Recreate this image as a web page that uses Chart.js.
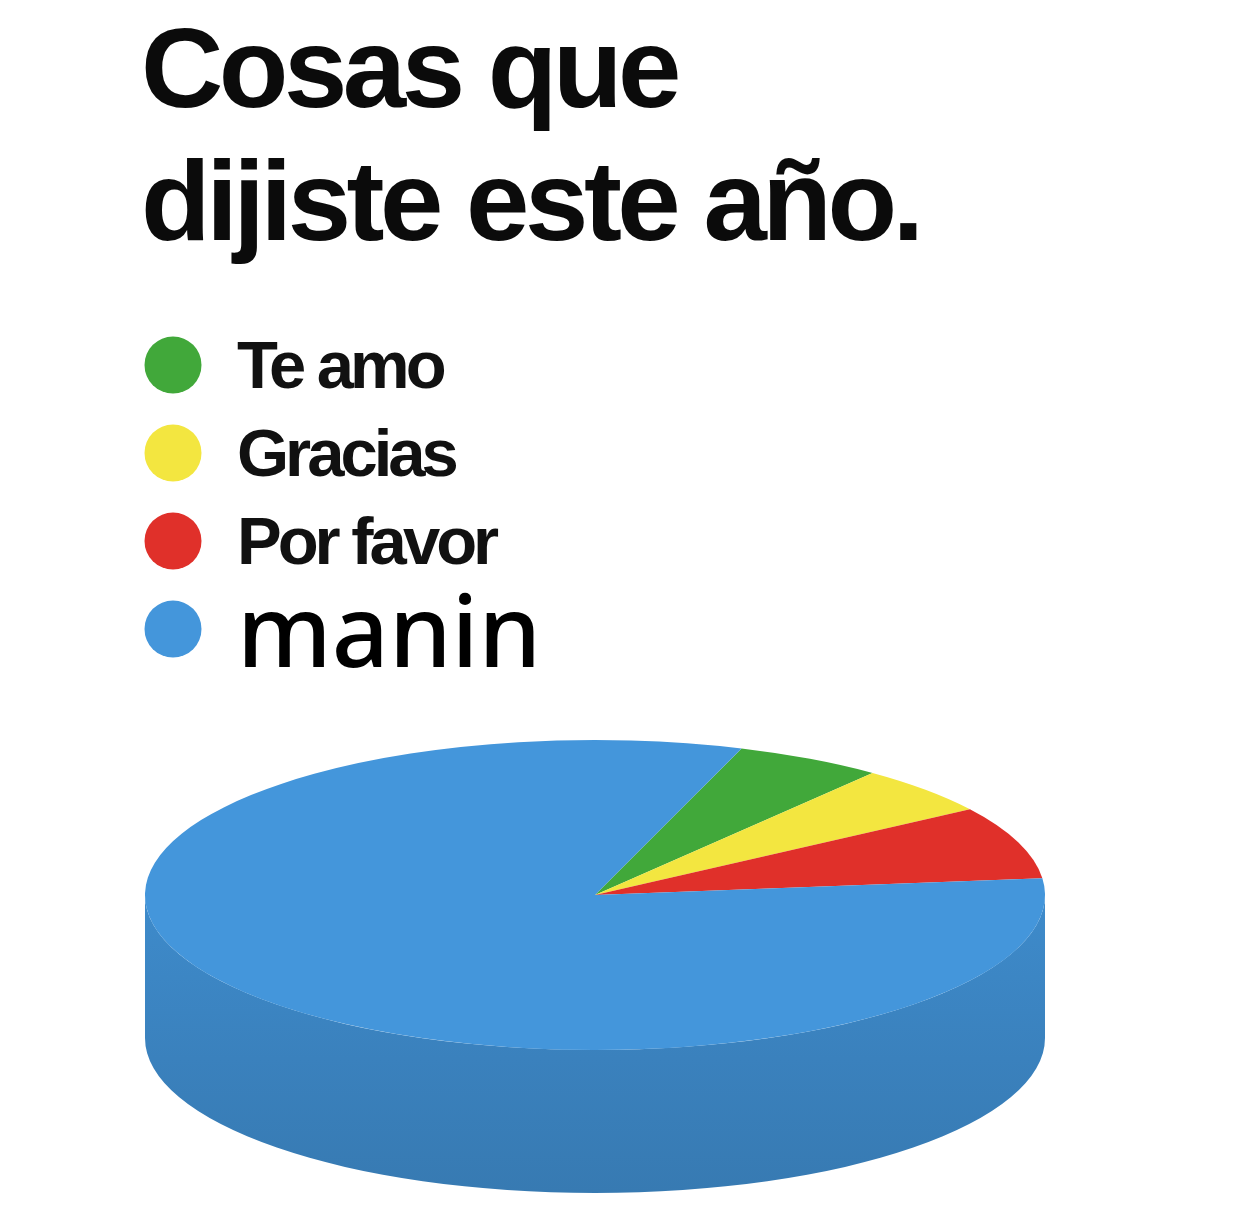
<!DOCTYPE html>
<html>
<head>
<meta charset="utf-8">
<script src="https://cdn.jsdelivr.net/npm/chart.js@4.4.1/dist/chart.umd.min.js"></script>
<style>
  html, body { margin: 0; padding: 0; background: #fff; }
  canvas { display: block; }
</style>
</head>
<body>
<canvas id="chart" width="1242" height="1212"></canvas>
<script>
const titleLines = ["Cosas que", "dijiste este año."];
const labels = ["Te amo", "Gracias", "Por favor", "manin"];
const shares = [5.3, 5.1, 7.6, 82.0];
const sliceColors = ["#41a83a", "#f3e640", "#e0302a", "#4496db"];

// tight tracking for the title, like the original
const tightText = {
  id: "tightText",
  beforeDraw(chart) {
    chart.ctx.letterSpacing = "-4.5px";
  }
};

// fake 3D: draw the side wall, then squash the pie into an ellipse
const pie3d = {
  id: "pie3d",
  beforeDatasetsDraw(chart, args, opts) {
    const arc = chart.getDatasetMeta(0).data[0];
    if (!arc) return;
    const ctx = chart.ctx;
    const { cx, cy, rx, ry, depth } = opts;
    ctx.letterSpacing = "0px";

    ctx.save();
    const grad = ctx.createLinearGradient(0, cy, 0, cy + ry + depth);
    grad.addColorStop(0, "#3e8bcb");
    grad.addColorStop(0.55, "#3a81bd");
    grad.addColorStop(1, "#377ab2");
    ctx.beginPath();
    ctx.ellipse(cx, cy, rx, ry, 0, 0, Math.PI);
    ctx.lineTo(cx - rx, cy + depth);
    ctx.ellipse(cx, cy + depth, rx, ry, 0, Math.PI, 0, true);
    ctx.closePath();
    ctx.fillStyle = grad;
    ctx.fill();
    ctx.restore();

    const r = arc.outerRadius;
    ctx.save();
    ctx.translate(cx, cy);
    ctx.scale(rx / r, ry / r);
    ctx.translate(-arc.x, -arc.y);
  },
  afterDatasetsDraw(chart) {
    chart.ctx.restore();
  }
};

// legend with dots, one font per entry
const dotLegend = {
  id: "dotLegend",
  afterDraw(chart, args, opts) {
    const ctx = chart.ctx;
    const ds = chart.data.datasets[0];
    ctx.save();
    chart.data.labels.forEach((label, i) => {
      const y = opts.top + i * opts.step;
      ctx.beginPath();
      ctx.arc(opts.dotX, y, opts.dotRadius, 0, Math.PI * 2);
      ctx.fillStyle = ds.backgroundColor[i];
      ctx.fill();
      const f = opts.fonts[i];
      ctx.font = f.font;
      ctx.letterSpacing = f.spacing;
      ctx.fillStyle = f.color;
      ctx.textBaseline = "alphabetic";
      ctx.textAlign = "left";
      ctx.fillText(label, opts.textX, y + f.shift);
    });
    ctx.restore();
  }
};

const legendFont = { font: "bold 67px 'Liberation Sans', Arial, sans-serif", spacing: "-4px", color: "#111", shift: 23 };

new Chart(document.getElementById("chart"), {
  type: "pie",
  data: {
    labels: labels,
    datasets: [{
      data: shares,
      backgroundColor: sliceColors,
      borderWidth: 0
    }]
  },
  options: {
    responsive: false,
    animation: false,
    devicePixelRatio: 1,
    rotation: 19,
    layout: { padding: { left: 141, right: 40, bottom: 20 } },
    plugins: {
      legend: { display: false },
      tooltip: { enabled: false },
      title: {
        display: true,
        text: titleLines,
        align: "start",
        color: "#0b0b0b",
        font: { family: "'Liberation Sans', Arial, sans-serif", size: 114, weight: "bold", lineHeight: 1.167 },
        padding: { top: 9, bottom: 415 }
      },
      pie3d: { cx: 595, cy: 895, rx: 450, ry: 155, depth: 143 },
      dotLegend: {
        top: 365,
        step: 88,
        dotX: 173,
        dotRadius: 28.5,
        textX: 237,
        fonts: [
          legendFont,
          legendFont,
          legendFont,
          { font: "500 100px 'Noto Sans', 'Open Sans', sans-serif", spacing: "0px", color: "#000", shift: 38 }
        ]
      }
    }
  },
  plugins: [tightText, pie3d, dotLegend]
});
</script>
</body>
</html>
